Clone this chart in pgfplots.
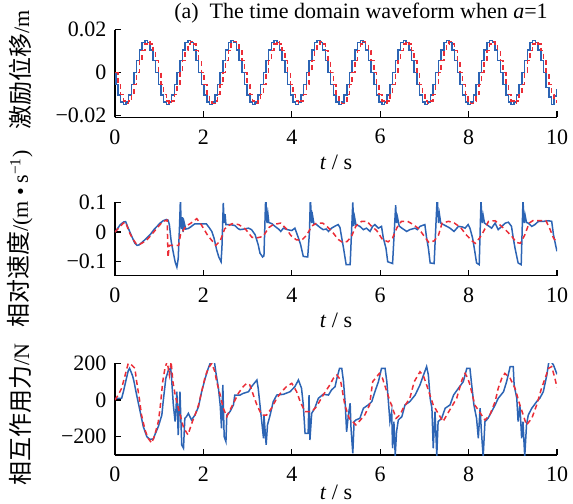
\documentclass[border=0pt]{standalone}
\usepackage{pgfplots}
\pgfplotsset{compat=1.18}
\usepackage{pgfplotstable}
\usepackage{fontspec}
\setmainfont{Liberation Serif}
\newfontfamily\cjk{Noto Sans CJK SC}
\definecolor{cblue}{RGB}{44,100,180}
\definecolor{cred}{RGB}{235,45,55}

\pgfplotstableread{
t b r
0.000 0 0
0.035 -0.0057 0
0.096 -0.0106 -0.0056
0.157 -0.0139 -0.0103
0.218 -0.0150 -0.0134
0.278 -0.0139 -0.0145
0.339 -0.0106 -0.0134
0.400 -0.0057 -0.0103
0.461 0 -0.0056
0.522 0.0057 0
0.583 0.0106 0.0056
0.644 0.0139 0.0103
0.705 0.0150 0.0134
0.766 0.0139 0.0145
0.827 0.0106 0.0134
0.888 0.0057 0.0103
0.949 0 0.0056
1.010 -0.0057 0
1.071 -0.0106 -0.0056
1.132 -0.0139 -0.0103
1.193 -0.0150 -0.0134
1.253 -0.0139 -0.0145
1.314 -0.0106 -0.0134
1.375 -0.0057 -0.0103
1.436 0 -0.0056
1.497 0.0057 0
1.558 0.0106 0.0056
1.619 0.0139 0.0103
1.680 0.0150 0.0134
1.741 0.0139 0.0145
1.802 0.0106 0.0134
1.863 0.0057 0.0103
1.924 0 0.0056
1.985 -0.0057 0
2.046 -0.0106 -0.0056
2.107 -0.0139 -0.0103
2.168 -0.0150 -0.0134
2.228 -0.0139 -0.0145
2.289 -0.0106 -0.0134
2.350 -0.0057 -0.0103
2.411 0 -0.0056
2.472 0.0057 0
2.533 0.0106 0.0056
2.594 0.0139 0.0103
2.655 0.0150 0.0134
2.716 0.0139 0.0145
2.777 0.0106 0.0134
2.838 0.0057 0.0103
2.899 0 0.0056
2.960 -0.0057 0
3.021 -0.0106 -0.0056
3.082 -0.0139 -0.0103
3.143 -0.0150 -0.0134
3.203 -0.0139 -0.0145
3.264 -0.0106 -0.0134
3.325 -0.0057 -0.0103
3.386 0 -0.0056
3.447 0.0057 0
3.508 0.0106 0.0056
3.569 0.0139 0.0103
3.630 0.0150 0.0134
3.691 0.0139 0.0145
3.752 0.0106 0.0134
3.813 0.0057 0.0103
3.874 0 0.0056
3.935 -0.0057 0
3.996 -0.0106 -0.0056
4.057 -0.0139 -0.0103
4.118 -0.0150 -0.0134
4.178 -0.0139 -0.0145
4.239 -0.0106 -0.0134
4.300 -0.0057 -0.0103
4.361 0 -0.0056
4.422 0.0057 0
4.483 0.0106 0.0056
4.544 0.0139 0.0103
4.605 0.0150 0.0134
4.666 0.0139 0.0145
4.727 0.0106 0.0134
4.788 0.0057 0.0103
4.849 0 0.0056
4.910 -0.0057 0
4.971 -0.0106 -0.0056
5.032 -0.0139 -0.0103
5.093 -0.0150 -0.0134
5.153 -0.0139 -0.0145
5.214 -0.0106 -0.0134
5.275 -0.0057 -0.0103
5.336 0 -0.0056
5.397 0.0057 0
5.458 0.0106 0.0056
5.519 0.0139 0.0103
5.580 0.0150 0.0134
5.641 0.0139 0.0145
5.702 0.0106 0.0134
5.763 0.0057 0.0103
5.824 0 0.0056
5.885 -0.0057 0
5.946 -0.0106 -0.0056
6.007 -0.0139 -0.0103
6.068 -0.0150 -0.0134
6.128 -0.0139 -0.0145
6.189 -0.0106 -0.0134
6.250 -0.0057 -0.0103
6.311 0 -0.0056
6.372 0.0057 0
6.433 0.0106 0.0056
6.494 0.0139 0.0103
6.555 0.0150 0.0134
6.616 0.0139 0.0145
6.677 0.0106 0.0134
6.738 0.0057 0.0103
6.799 0 0.0056
6.860 -0.0057 0
6.921 -0.0106 -0.0056
6.982 -0.0139 -0.0103
7.043 -0.0150 -0.0134
7.103 -0.0139 -0.0145
7.164 -0.0106 -0.0134
7.225 -0.0057 -0.0103
7.286 0 -0.0056
7.347 0.0057 0
7.408 0.0106 0.0056
7.469 0.0139 0.0103
7.530 0.0150 0.0134
7.591 0.0139 0.0145
7.652 0.0106 0.0134
7.713 0.0057 0.0103
7.774 0 0.0056
7.835 -0.0057 0
7.896 -0.0106 -0.0056
7.957 -0.0139 -0.0103
8.018 -0.0150 -0.0134
8.078 -0.0139 -0.0145
8.139 -0.0106 -0.0134
8.200 -0.0057 -0.0103
8.261 0 -0.0056
8.322 0.0057 0
8.383 0.0106 0.0056
8.444 0.0139 0.0103
8.505 0.0150 0.0134
8.566 0.0139 0.0145
8.627 0.0106 0.0134
8.688 0.0057 0.0103
8.749 0 0.0056
8.810 -0.0057 0
8.871 -0.0106 -0.0056
8.932 -0.0139 -0.0103
8.993 -0.0150 -0.0134
9.053 -0.0139 -0.0145
9.114 -0.0106 -0.0134
9.175 -0.0057 -0.0103
9.236 0 -0.0056
9.297 0.0057 0
9.358 0.0106 0.0056
9.419 0.0139 0.0103
9.480 0.0150 0.0134
9.541 0.0139 0.0145
9.602 0.0106 0.0134
9.663 0.0057 0.0103
9.724 0 0.0056
9.785 -0.0070 0
9.846 -0.0115 -0.0056
9.907 -0.0150 -0.0103
9.968 -0.0110 -0.0134
10.000 -0.0080 -0.0140
}\dispdata

\pgfplotstableread{
t v
0 0.000
0.06 0.012
0.12 0.025
0.20 0.034
0.24 0.035
0.30 0.013
0.38 -0.015
0.45 -0.038
0.50 -0.045
0.55 -0.043
0.64 -0.031
0.72 -0.020
0.80 -0.008
0.88 0.008
0.95 0.019
1.02 0.030
1.09 0.038
1.16 0.042
1.20 0.040
1.23 0.025
1.27 -0.030
1.32 -0.070
1.36 -0.100
1.40 -0.118
1.43 -0.090
1.46 0.020
1.48 0.110
1.50 0.010
1.52 0.050
1.54 0.000
1.56 0.035
1.60 0.010
1.66 0.012
1.72 0.018
1.80 0.027
1.90 0.027
2.00 0.027
2.07 0.027
2.13 0.015
2.19 0.002
2.24 -0.020
2.30 -0.060
2.35 -0.085
2.40 -0.100
2.42 -0.050
2.45 0.098
2.47 0.030
2.49 0.060
2.51 0.025
2.60 0.025
2.71 0.022
2.78 0.012
2.83 0.008
2.92 0.010
3.02 0.013
3.09 0.008
3.17 -0.009
3.24 -0.043
3.28 -0.071
3.34 -0.084
3.37 -0.080
3.41 0.120
3.44 0.030
3.46 0.060
3.48 0.032
3.55 0.028
3.62 0.019
3.70 0.010
3.75 0.002
3.81 0.013
3.90 0.008
4.00 0.005
4.07 0.013
4.15 -0.020
4.20 -0.043
4.26 -0.082
4.36 -0.084
4.40 0.000
4.42 0.114
4.45 0.030
4.47 0.055
4.50 0.028
4.56 0.025
4.64 0.015
4.71 0.008
4.78 0.010
4.83 0.002
4.90 0.013
4.98 0.020
5.05 0.025
5.09 0.015
5.13 -0.020
5.17 -0.054
5.23 -0.110
5.32 -0.110
5.38 0.100
5.40 0.020
5.42 0.050
5.45 0.025
5.54 0.019
5.62 0.008
5.69 0.013
5.77 0.002
5.83 0.019
5.88 0.025
5.96 0.013
6.03 0.019
6.07 -0.020
6.13 -0.054
6.17 -0.100
6.28 -0.106
6.35 0.090
6.37 0.030
6.39 0.050
6.43 0.020
6.50 0.012
6.60 0.002
6.67 0.008
6.79 0.013
6.84 0.008
6.90 0.019
7.01 0.025
7.05 -0.020
7.09 -0.054
7.13 -0.104
7.22 -0.106
7.29 0.120
7.32 0.030
7.34 0.060
7.37 0.030
7.43 0.025
7.52 0.018
7.58 0.013
7.67 0.002
7.77 0.019
7.86 0.017
7.92 0.013
7.99 0.025
8.03 0.013
8.09 -0.020
8.14 -0.065
8.18 -0.104
8.24 -0.110
8.28 0.103
8.31 0.030
8.33 0.055
8.36 0.030
8.41 0.025
8.52 0.013
8.60 0.030
8.67 0.008
8.75 0.019
8.83 0.030
8.90 0.033
8.97 0.019
9.01 -0.020
9.05 -0.054
9.12 -0.104
9.19 -0.110
9.23 0.105
9.26 0.030
9.28 0.055
9.31 0.032
9.35 0.030
9.43 0.019
9.50 0.025
9.58 0.036
9.70 0.036
9.80 0.038
9.88 0.036
9.92 -0.009
9.97 -0.045
10.0 -0.065
}\velblue

\pgfplotstableread{
t v
0 0.000
0.08 0.013
0.19 0.030
0.24 0.033
0.32 0.000
0.39 -0.020
0.48 -0.040
0.55 -0.042
0.70 -0.030
0.82 -0.010
0.95 0.013
1.05 0.030
1.13 0.038
1.18 0.040
1.20 -0.085
1.23 -0.045
1.44 -0.045
1.48 -0.010
1.60 0.019
1.72 0.030
1.85 0.045
1.95 0.025
2.10 -0.012
2.20 -0.030
2.28 -0.045
2.38 -0.030
2.48 0.010
2.55 0.020
2.65 0.028
2.80 0.025
2.95 0.010
3.10 -0.018
3.20 -0.020
3.35 -0.015
3.48 0.015
3.58 0.025
3.75 0.030
3.88 0.010
3.98 -0.012
4.10 -0.026
4.22 -0.028
4.34 -0.010
4.45 0.020
4.56 0.030
4.70 0.030
4.80 0.018
4.92 0.000
5.05 -0.025
5.15 -0.035
5.25 -0.032
5.35 -0.015
5.45 0.020
5.58 0.036
5.70 0.036
5.80 0.020
5.92 0.005
6.05 -0.025
6.18 -0.033
6.28 -0.020
6.38 0.015
6.48 0.036
6.62 0.036
6.75 0.025
6.88 0.010
7.00 -0.015
7.10 -0.035
7.22 -0.030
7.32 -0.010
7.40 0.030
7.55 0.036
7.68 0.030
7.82 0.015
7.95 -0.010
8.08 -0.030
8.15 -0.038
8.25 -0.020
8.35 0.005
8.45 0.036
8.60 0.038
8.70 0.025
8.85 0.005
8.98 -0.015
9.08 -0.035
9.17 -0.038
9.27 -0.010
9.37 0.030
9.45 0.038
9.75 0.038
9.84 0.010
9.92 -0.020
10.00 -0.035
}\velred

\pgfplotstableread{
t f
0 9
0.15 9
0.19 45
0.25 109
0.30 160
0.33 173
0.36 155
0.40 130
0.43 100
0.49 27
0.57 -64
0.64 -145
0.72 -200
0.79 -215
0.87 -212
0.90 -191
0.98 -145
1.06 -82
1.09 -9
1.15 118
1.21 163
1.26 173
1.28 118
1.32 -27
1.36 -118
1.38 -50
1.40 45
1.43 -191
1.47 45
1.51 -245
1.55 -263
1.58 -100
1.62 -90
1.66 -73
1.73 -109
1.81 -82
1.89 -36
1.96 45
2.04 118
2.11 173
2.19 223
2.24 223
2.28 154
2.34 64
2.38 -27
2.41 -154
2.44 82
2.47 -200
2.51 -227
2.53 -82
2.60 -64
2.68 -27
2.71 27
2.83 27
2.90 36
3.02 45
3.09 73
3.21 109
3.24 64
3.28 -27
3.32 -118
3.36 -209
3.37 -82
3.42 -245
3.45 -136
3.51 -82
3.58 -9
3.66 27
3.81 31
3.96 45
4.07 73
4.15 109
4.22 64
4.26 -27
4.30 -182
4.37 -182
4.39 27
4.41 -218
4.45 -73
4.52 -45
4.60 9
4.71 31
4.83 27
4.90 55
4.98 73
5.02 118
5.08 173
5.13 173
5.17 100
5.21 -27
5.24 -173
5.28 -82
5.32 -18
5.34 -154
5.38 -291
5.41 -118
5.45 -109
5.54 -100
5.62 -45
5.73 -27
5.81 -9
5.88 45
5.96 100
6.03 173
6.11 173
6.15 100
6.18 9
6.22 -118
6.26 -64
6.28 -263
6.31 -118
6.34 -305
6.37 -173
6.41 -109
6.49 -91
6.56 -27
6.67 -9
6.79 27
6.90 82
6.98 136
7.05 182
7.09 136
7.13 9
7.17 -45
7.20 -263
7.24 -64
7.28 -305
7.31 -118
7.39 -100
7.47 -45
7.58 -27
7.66 27
7.77 64
7.88 100
7.96 173
8.03 173
8.07 82
8.12 -27
8.18 -100
8.22 -209
8.26 -45
8.29 -173
8.33 -310
8.37 -118
8.44 -100
8.52 -64
8.60 -27
8.67 9
8.79 45
8.86 100
8.94 182
9.01 182
9.03 82
9.09 9
9.12 -118
9.16 -27
9.20 -209
9.23 -118
9.27 -310
9.31 -136
9.35 -82
9.43 -45
9.54 -9
9.61 9
9.69 45
9.77 136
9.81 200
9.84 218
9.92 191
10.0 140
}\forceblue

\pgfplotstableread{
t f
0 0
0.08 30
0.15 64
0.23 136
0.30 200
0.38 190
0.45 173
0.49 100
0.55 9
0.60 -82
0.68 -164
0.75 -209
0.83 -235
0.90 -191
0.98 -118
1.02 -45
1.08 100
1.13 173
1.18 209
1.23 136
1.27 209
1.31 100
1.36 30
1.45 -60
1.55 -150
1.65 -190
1.75 -118
1.81 -82
1.89 -27
1.96 45
2.04 127
2.11 173
2.19 200
2.26 154
2.30 100
2.38 27
2.45 -45
2.53 -91
2.60 -55
2.68 -18
2.79 36
2.90 73
2.98 91
3.05 82
3.13 27
3.21 -27
3.32 -82
3.43 -82
3.54 -45
3.66 9
3.77 45
3.88 73
4.00 91
4.11 45
4.19 -9
4.30 -64
4.45 -64
4.56 -36
4.71 27
4.86 82
4.94 118
5.02 136
5.10 110
5.20 -27
5.30 -100
5.45 -136
5.55 -110
5.65 -82
5.76 -27
5.83 100
5.98 145
6.05 120
6.10 82
6.20 9
6.36 -100
6.45 -80
6.52 -45
6.67 9
6.77 100
6.90 154
6.98 130
7.05 82
7.20 -27
7.42 -118
7.55 -64
7.73 9
7.85 109
7.92 145
7.98 120
8.03 82
8.14 -27
8.37 -109
8.48 -82
8.60 -9
8.67 64
8.75 118
8.82 145
8.94 118
9.05 64
9.16 -27
9.31 -136
9.43 -100
9.54 -27
9.65 64
9.73 118
9.81 173
9.88 182
9.95 120
10.0 70
}\forcered

\newcommand\cj[1]{{\fontsize{24bp}{28bp}\selectfont\cjk #1}}

\pgfplotsset{
  myaxis/.style={
    scale only axis, width=442bp, xmin=0, xmax=10,
    anchor=south west,
    axis lines*=left,
    axis line style={line width=1.1bp, black},
    every tick/.style={line width=1.1bp, black},
    major tick length=6bp,
    tick align=inside,
    xtick={0,2,4,6,8,10},
    scaled y ticks=false,
    font=\fontsize{22bp}{26bp}\selectfont\rmfamily,
    /pgf/number format/assume math mode=true,
    xticklabel style={anchor=center, yshift=-19.5bp},
    yticklabel style={anchor=east, xshift=-5bp},
    xlabel={\textit{t} / s},
    xlabel style={at={(axis description cs:0.5,0)}, anchor=center, yshift=-45bp},
    clip=true,
  },
  bl/.style={cblue, line width=1.5bp, mark=none},
  rd/.style={cred, line width=1.5bp, mark=none, dash pattern=on 5bp off 3.5bp},
}

\begin{document}
\begin{tikzpicture}
\useasboundingbox (-115bp,0bp) rectangle (458bp,-504bp);

\begin{axis}[myaxis, at={(0bp,-117.3bp)}, height=87.6bp,
  ymin=-0.021, ymax=0.02, ytick={-0.02,0,0.02}, yticklabels={−0.02,0,0.02},
  ylabel={\cj{激励位移}/m},
  ylabel style={at={(axis description cs:-0.215,0.54)}, anchor=center}]
\addplot[bl, const plot mark mid] table[x=t,y=b] {\dispdata};
\addplot[rd, const plot mark mid] table[x=t,y=r] {\dispdata};
\end{axis}

\begin{axis}[myaxis, at={(0bp,-275.7bp)}, height=73.4bp,
  ymin=-0.147, ymax=0.1, ytick={-0.1,0,0.1}, yticklabels={−0.1,0,0.1},
  ylabel={\cj{相对速度}/(m\kern5bp•\kern5bp s\textsuperscript{−1})},
  ylabel style={at={(axis description cs:-0.215,0.5)}, anchor=center}]
\addplot[bl] table[x=t,y=v] {\velblue};
\addplot[rd] table[x=t,y=v] {\velred};
\end{axis}

\begin{axis}[myaxis, at={(0bp,-455bp)}, height=91.7bp,
  ymin=-300, ymax=200, ytick={-200,0,200}, yticklabels={−200,0,200},
  ylabel={\cj{相互作用力}/N},
  ylabel style={at={(axis description cs:-0.215,0.44)}, anchor=center},
  xlabel style={yshift=8bp}]
\addplot[bl] table[x=t,y=f] {\forceblue};
\addplot[rd] table[x=t,y=f] {\forcered};
\end{axis}

\node[anchor=base, font=\fontsize{22bp}{26bp}\selectfont] at (246bp,-18bp) {(a)\ \ The time domain waveform when \textit{a}=1};
\end{tikzpicture}
\end{document}
